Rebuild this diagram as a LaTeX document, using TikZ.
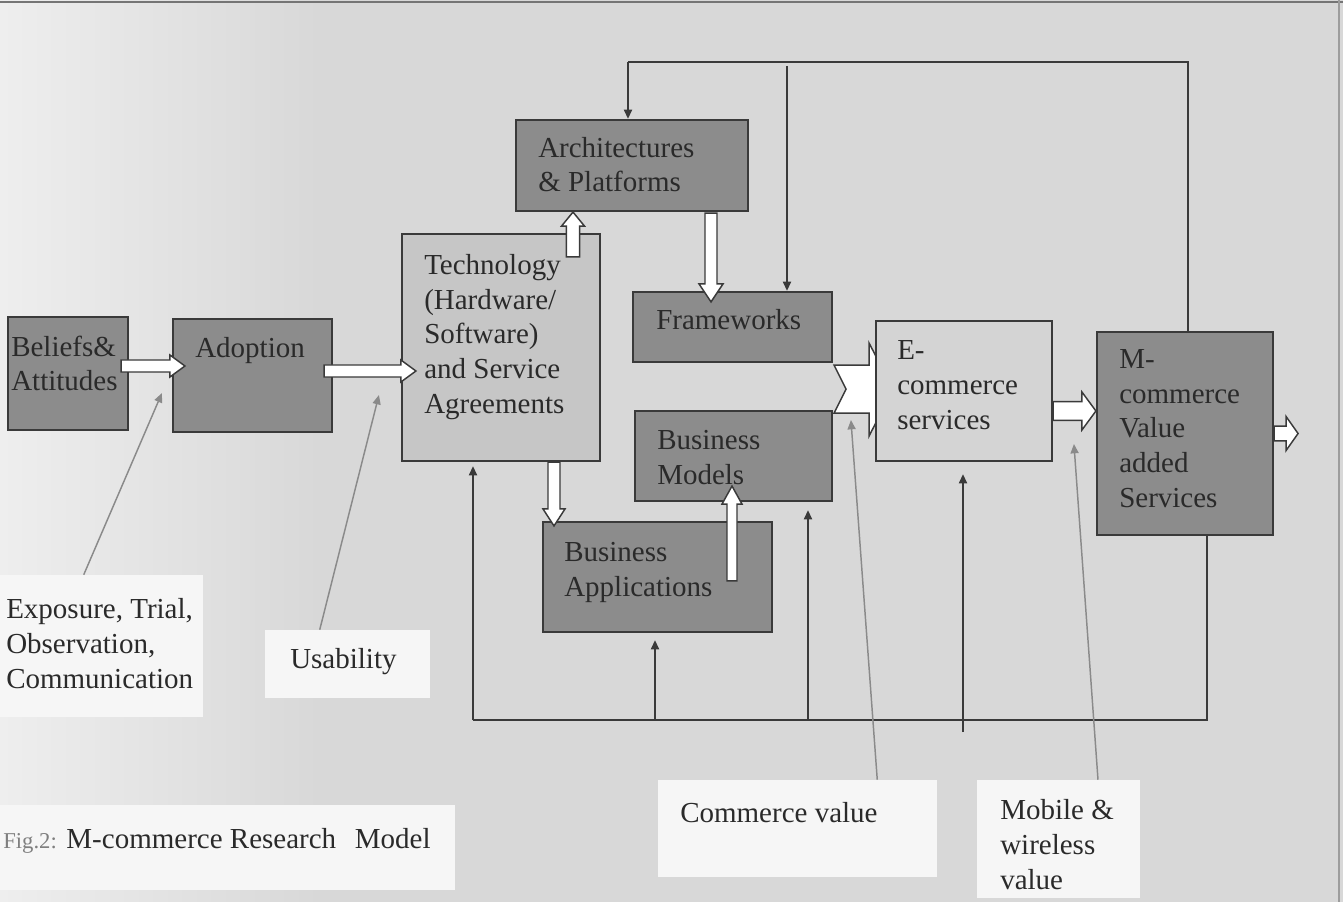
\documentclass[tikz,border=0pt]{standalone}
\usepackage{fontspec}
\setmainfont{Liberation Serif}
\usetikzlibrary{calc,fit,arrows.meta}

\definecolor{bg}{HTML}{D8D8D8}
\definecolor{bgl}{HTML}{EEEEEE}
\definecolor{darkfill}{HTML}{8C8C8C}
\definecolor{techfill}{HTML}{C6C6C6}
\definecolor{ecomfill}{HTML}{D4D4D4}
\definecolor{linec}{HTML}{3A3A3A}
\definecolor{ptrc}{HTML}{8A8A8A}
\definecolor{textc}{HTML}{2A2A2A}
\definecolor{labelfill}{HTML}{F6F6F6}

\tikzset{
  box/.style={draw=linec, line width=1.6pt, inner sep=0pt, rectangle},
  darkbox/.style={box, fill=darkfill},
  techbox/.style={box, fill=techfill},
  ecombox/.style={box, fill=ecomfill},
  labelbox/.style={fill=labelfill, draw=none, inner sep=0pt, rectangle},
  % multi-line texts are placed by the baseline of their last line
  txt/.style={anchor=base west, inner sep=0pt, align=left, text=textc,
    font=\fontsize{21.75}{25.9}\selectfont},
  blockarr/.style={draw=linec, fill=white, line width=1.1pt, line join=miter},
  fbline/.style={draw=linec, line width=1.5pt},
  fbarrow/.style={fbline, -{Triangle[length=7pt,width=6pt]}},
  ptr/.style={draw=ptrc, line width=1.1pt, -{Triangle[length=7pt,width=6pt]}},
}

% hollow block arrow: #1 tail, #2 tip, #3 half shaft width, #4 half head width, #5 head length
\newcommand\blockarrow[5]{%
  \path (#2) coordinate (ba-t) ($(#2)!#5!(#1)$) coordinate (ba-h);
  \filldraw[blockarr] ($(#1)!#3!90:(ba-t)$) -- ($(ba-h)!#3!90:(ba-t)$)
    -- ($(ba-h)!#4!90:(ba-t)$) -- (ba-t) -- ($(ba-h)!#4!-90:(ba-t)$)
    -- ($(ba-h)!#3!-90:(ba-t)$) -- ($(#1)!#3!-90:(ba-t)$) -- cycle;
}

\begin{document}
\begin{tikzpicture}[x=0.75pt, y=-0.75pt]
  \clip (0,0) rectangle (1343,902);
  % page background
  \fill[bg] (0,0) rectangle (1343,902);
  \shade[left color=bgl, right color=bg] (0,0) rectangle (320,902);
  \draw[linec!70, line width=0.8pt] (0,2) -- (1343,2);
  \draw[linec!50, line width=0.8pt] (1339,0) -- (1339,902);

  % boxes of the model
  \node[darkbox, fit={(8,317) (128,430)}] (belief) {};
  \node[darkbox, fit={(173,319) (332,432)}] (adopt) {};
  \node[techbox, fit={(402,234) (600,461)}] (tech) {};
  \node[darkbox, fit={(516,120) (748,211)}] (arch) {};
  \node[darkbox, fit={(633,292) (832,362)}] (frame) {};
  \node[darkbox, fit={(635,411) (832,501)}] (bmodel) {};
  \node[darkbox, fit={(543,522) (772,632)}] (bapp) {};
  \node[darkbox, fit={(1097,332) (1273,535)}] (mval) {};

  % feedback lines along the top
  \coordinate (tr) at (1188,62);
  \coordinate (tl) at (628,62);
  \coordinate (tm) at (787,66);
  \draw[fbline] (mval.north -| tr) -- (tr) -- (tl);
  \draw[fbarrow] (tl) -- (tl |- arch.north);
  \draw[fbarrow] (tm) -- (tm |- frame.north);

  % feedback lines along the bottom
  \coordinate (br) at (1207,720);
  \coordinate (bl) at (473,720);
  \coordinate (b1) at (655,720);
  \coordinate (b2) at (808,720);
  \coordinate (b3) at (963,732);
  \draw[fbline] (mval.south -| br) -- (br) -- (bl);
  \draw[fbarrow] (bl) -- ($(bl |- tech.south)+(0,4)$);
  \draw[fbarrow] (b1) -- ($(b1 |- bapp.south)+(0,7)$);
  \draw[fbarrow] (b2) -- ($(b2 |- bmodel.south)+(0,8)$);
  \draw[fbarrow] (b3) -- ($(b3 |- mval.south)+(0,-62)$);

  % notched arrow from Frameworks into E-commerce services
  \filldraw[blockarr] ($(frame.south east)+(1,2)$) -- ($(frame.south east)+(36,2)$)
    -- ($(frame.south east)+(36,-20)$) -- ($(frame.south east)+(60,26)$)
    -- ($(frame.south east)+(36,73)$) -- ($(frame.south east)+(36,50)$)
    -- ($(frame.south east)+(1,50)$) -- ($(frame.south east)+(13,26)$) -- cycle;
  \node[ecombox, fit={(876,321) (1052,461)}] (ecom) {};

  % hollow block arrows between the boxes
  \coordinate (a1s) at ($(belief.east)+(-8,-7.5)$);
  \coordinate (a1e) at ($(adopt.west)+(13,-9.5)$);
  \blockarrow{a1s}{a1e}{4.5pt}{8.25pt}{11.25pt}
  \coordinate (a2s) at ($(adopt.east)+(-9,-4.5)$);
  \coordinate (a2e) at ($(tech.west)+(15,23.5)$);
  \blockarrow{a2s}{a2e}{4.5pt}{8.25pt}{11.25pt}
  \coordinate (a3s) at ($(tech.north)+(72,24)$);
  \coordinate (a3e) at ($(arch.south)+(-59,0)$);
  \blockarrow{a3s}{a3e}{4.9pt}{8.6pt}{10.5pt}
  \coordinate (a4s) at ($(arch.south)+(79,1)$);
  \coordinate (a4e) at ($(frame.north)+(-21.5,11)$);
  \blockarrow{a4s}{a4e}{4.5pt}{9pt}{13.5pt}
  \coordinate (a5s) at ($(tech.south)+(53,0)$);
  \coordinate (a5e) at ($(bapp.north)+(-103.5,5)$);
  \blockarrow{a5s}{a5e}{4.5pt}{8.25pt}{12.75pt}
  \coordinate (a8s) at ($(ecom.east)+(0,20)$);
  \coordinate (a8e) at ($(mval.west)+(0,-22.5)$);
  \blockarrow{a8s}{a8e}{7.1pt}{14.25pt}{10.5pt}
  \coordinate (a9s) at ($(mval.east)+(0,0)$);
  \coordinate (a9e) at ($(mval.east)+(24,0)$);
  \blockarrow{a9s}{a9e}{5.6pt}{12.75pt}{9pt}

  % texts inside the boxes
  \node[txt] (belief-t) at (11,391) {Beliefs\&\\Attitudes};
  \node[txt] (adopt-t) at (195,358) {Adoption};
  \node[txt] (tech-t) at (424,413) {Technology\\(Hardware/\\Software)\\and Service\\Agreements};
  \node[txt] (arch-t) at (538,192) {Architectures\\\& Platforms};
  \node[txt] (frame-t) at (656,330) {Frameworks};
  \node[txt] (bmodel-t) at (657,484) {Business\\Models};
  \node[txt] (bapp-t) at (564,596) {Business\\Applications};
  \node[txt] (ecom-t) at (897,429) {E-\\commerce\\services};
  \node[txt] (mval-t) at (1119,507) {M-\\commerce\\Value\\added\\Services};

  % arrow from Business Applications up to Business Models (over the text)
  \coordinate (a6s) at ($(bapp.north)+(74.5,60)$);
  \coordinate (a6e) at ($(bmodel.south)+(-1.5,-16)$);
  \blockarrow{a6s}{a6e}{3.75pt}{7.5pt}{13.5pt}

  % influence labels
  \node[labelbox, fit={(-10,575) (203,717)}] (expo) {};
  \node[labelbox, fit={(265,630) (430,698)}] (usab) {};
  \node[labelbox, fit={(-10,805) (455,890)}] (cap) {};
  \node[labelbox, fit={(658,780) (937,877)}] (cval) {};
  \node[labelbox, fit={(977,780) (1140,898)}] (mobv) {};

  \node[txt] (expo-t) at (6,688) {Exposure, Trial,\\Observation,\\Communication};
  \node[txt] (usab-t) at (290,668) {Usability};
  \node[txt] (cap-t) at (3,848) {{\color{textc!60}\fontsize{17}{20}\selectfont Fig.2:} M-commerce Research\hspace{14pt}Model};
  \node[txt] (cval-t) at (680,822) {Commerce value};
  \node[txt] (mobv-t) at (1000,889) {Mobile \&\\wireless\\value};

  % pointers from the labels to the arrows they act on
  \draw[ptr] ($(expo.north west)+(94,0)$) -- ($(adopt.south west)+(-10,-40)$);
  \draw[ptr] ($(usab.north west)+(55,0)$) -- ($(tech.west)+(-22,47.5)$);
  \draw[ptr] ($(cval.north east)+(-60,0)$) -- ($(ecom.west)+(-24,29)$);
  \draw[ptr] ($(mobv.north)+(39.5,0)$) -- ($(mval.west)+(-22,10.5)$);
\end{tikzpicture}
\end{document}
